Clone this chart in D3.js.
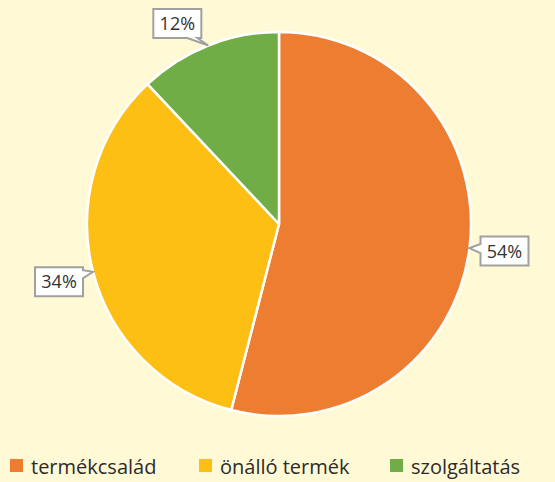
<!DOCTYPE html>
<html lang="hu">
<head>
<meta charset="utf-8">
<script src="https://cdn.jsdelivr.net/npm/d3@7"></script>
<style>
  body { margin: 0; background: #fffad5; }
  svg { display: block; font-family: "Open Sans", "Noto Sans", sans-serif; }
</style>
</head>
<body>
<script>
// data
const categories = ["termékcsalád", "önálló termék", "szolgáltatás"];
const values = [54, 34, 12];
const colors = ["#ed7d31", "#fdbf14", "#70ad47"];

const w = 555, h = 482;
const cx = 279, cy = 224, r = 192;

const svg = d3.select("body").append("svg")
  .attr("width", w)
  .attr("height", h);

svg.append("rect").attr("width", w).attr("height", h).attr("fill", "#fffad5");

const pie = d3.pie().sort(null).value(d => d);
const arcs = pie(values);
const arc = d3.arc().innerRadius(0).outerRadius(r);
const tipArc = d3.arc().innerRadius(r).outerRadius(r);

const g = svg.append("g").attr("transform", `translate(${cx},${cy})`);

g.selectAll("path.slice")
  .data(arcs)
  .join("path")
  .attr("class", "slice")
  .attr("d", arc)
  .attr("fill", (d, i) => colors[i])
  .attr("stroke", "#ffffff")
  .attr("stroke-width", 2.5)
  .attr("stroke-linejoin", "round");

// callout boxes: offset of box centre from tip, and which side the pointer is on
const bw = 48, bh = 29;
const callouts = [
  { dx: 35, dy: 3, side: "left" },
  { dx: -34, dy: 10, side: "right" },
  { dx: -31, dy: -22, side: "bottom" }
];

function calloutPath(tx, ty, c) {
  const x0 = tx + c.dx - bw / 2, y0 = ty + c.dy - bh / 2;
  const x1 = x0 + bw, y1 = y0 + bh;
  const p = d3.path();
  p.moveTo(x0, y0);
  p.lineTo(x1, y0);
  if (c.side === "right") {
    const my = Math.max(y0 + 3, Math.min(y1 - 12, ty - 4));
    p.lineTo(x1, my);
    p.lineTo(tx, ty);
    p.lineTo(x1, my + 8);
  }
  p.lineTo(x1, y1);
  if (c.side === "bottom") {
    p.lineTo(x1 - 4, y1);
    p.lineTo(tx, ty);
    p.lineTo(x1 - 14, y1);
  }
  p.lineTo(x0, y1);
  if (c.side === "left") {
    const my = Math.max(y0 + 3, Math.min(y1 - 12, ty - 4));
    p.lineTo(x0, my + 9);
    p.lineTo(tx, ty);
    p.lineTo(x0, my);
  }
  p.closePath();
  return p.toString();
}

const labels = g.selectAll("g.label")
  .data(arcs)
  .join("g")
  .attr("class", "label");

labels.append("path")
  .attr("d", (d, i) => {
    const [tx, ty] = tipArc.centroid(d);
    return calloutPath(tx, ty, callouts[i]);
  })
  .attr("fill", "#ffffff")
  .attr("stroke", "#a0a0a0")
  .attr("stroke-width", 2)
  .attr("stroke-linejoin", "miter");

labels.append("text")
  .attr("x", (d, i) => tipArc.centroid(d)[0] + callouts[i].dx)
  .attr("y", (d, i) => tipArc.centroid(d)[1] + callouts[i].dy)
  .attr("dy", "0.36em")
  .attr("text-anchor", "middle")
  .attr("font-size", 18)
  .attr("fill", "#333333")
  .text(d => d.data + "%");

// legend
const legendX = [10, 199, 390];
const legend = svg.selectAll("g.legend")
  .data(categories)
  .join("g")
  .attr("class", "legend")
  .attr("transform", (d, i) => `translate(${legendX[i]},459)`);

legend.append("rect")
  .attr("width", 13)
  .attr("height", 13)
  .attr("fill", (d, i) => colors[i]);

legend.append("text")
  .attr("x", 21)
  .attr("y", 15)
  .attr("font-size", 20)
  .attr("fill", "#2b2b2b")
  .text(d => d);
</script>
</body>
</html>
